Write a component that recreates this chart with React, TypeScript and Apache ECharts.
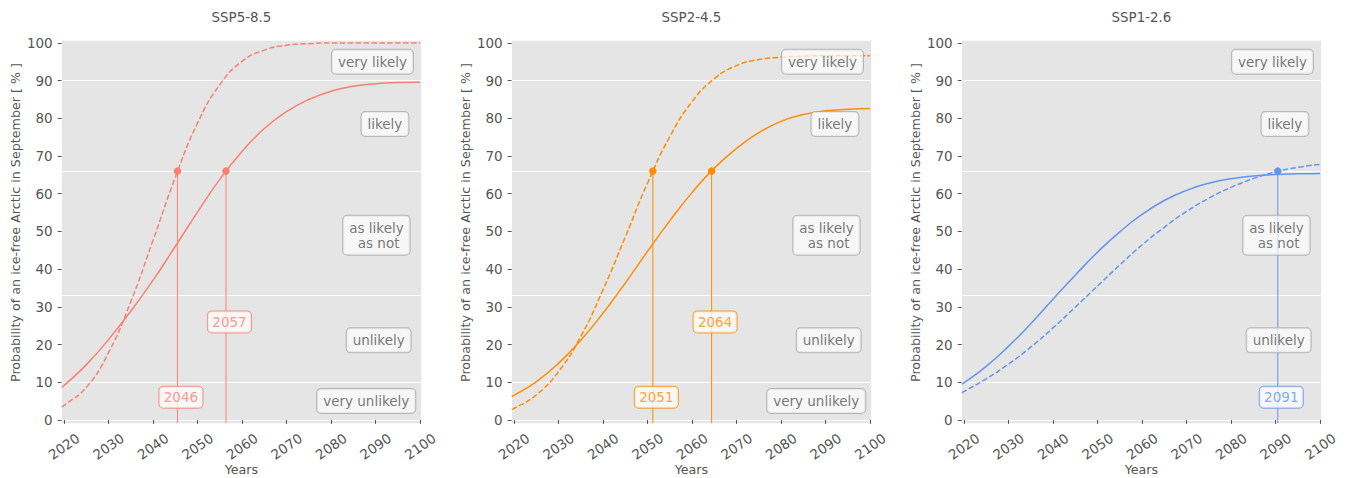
import React, { useEffect, useRef } from "react";
import * as echarts from "echarts";

// ---------- data ----------
const scenarios = ["SSP5-8.5", "SSP2-4.5", "SSP1-2.6"];
const years = [2019.5, 2020, 2025, 2030, 2035, 2040, 2045, 2050, 2055, 2060, 2065, 2070, 2075, 2080, 2085, 2090, 2095, 2100];

const ssp585Solid = [8.6, 9.1, 14.6, 21.3, 28.8, 37.0, 46.0, 55.1, 63.8, 71.2, 77.3, 81.8, 85.0, 87.2, 88.5, 89.2, 89.5, 89.6];
const ssp585Dashed = [3.4, 3.8, 8.6, 17.8, 31.3, 47.6, 64.3, 78.7, 88.9, 95.1, 98.1, 99.4, 99.8, 100, 100, 100, 100, 100];
const ssp245Solid = [6.2, 6.5, 10.1, 15.0, 21.1, 28.3, 36.3, 44.7, 52.8, 60.3, 66.8, 72.0, 76.2, 79.2, 81.0, 82.0, 82.4, 82.6];
const ssp245Dashed = [2.8, 3.0, 6.6, 12.8, 22.1, 34.5, 48.5, 62.8, 75.1, 84.4, 90.5, 94.0, 95.6, 96.2, 96.5, 96.6, 96.6, 96.6];
const ssp126Solid = [9.5, 9.8, 14.2, 19.5, 25.5, 32.0, 38.4, 44.5, 49.9, 54.5, 58.2, 60.9, 62.8, 64.0, 64.7, 65.1, 65.3, 65.4];
const ssp126Dashed = [7.2, 7.5, 10.9, 14.8, 19.3, 24.4, 29.9, 35.5, 41.1, 46.4, 51.1, 55.3, 58.8, 61.7, 64.0, 65.8, 67.0, 67.8];

// crossing of the 66 % ("likely") threshold
const crossYears585 = [2045.5, 2056.4];
const crossLabels585 = ["2046", "2057"];
const crossLabelY585 = [6, 26];
const crossYears245 = [2051.2, 2064.4];
const crossLabels245 = ["2051", "2064"];
const crossLabelY245 = [6, 26];
const crossYears126 = [2090.5];
const crossLabels126 = ["2091"];
const crossLabelY126 = [6];
const crossLevel = 66;

const likelihoodThresholds = [10, 33, 66, 90];
const likelihoodTexts = ["very likely", "likely", "as likely\n as not", "unlikely", "very unlikely"];
const likelihoodTextX = [2089.3, 2092.1, 2090.2, 2090.7, 2087.9];
const likelihoodTextY = [95, 78.5, 49, 21.1, 5];
// how many of the likelihood boxes each panel shows
const likelihoodCount = [5, 5, 4];

const yTicks = [0, 10, 20, 30, 40, 50, 60, 70, 80, 90, 100];
const xTicks = [2020, 2030, 2040, 2050, 2060, 2070, 2080, 2090, 2100];

// ---------- styling ----------
const colors = ["#FA8072", "#FF8C00", "#6495ED"];
const FONT = "DejaVu Sans";
const TXT = "#555555";
const X_MIN = 2019.5;
const X_MAX = 2100.25;
const Y_MIN = -0.9;
const Y_MAX = 100.6;
const GRID_LEFT = [61.7, 511.7, 961.7];
const GRID_TOP = 40.7;
const GRID_W = 359.5;
const GRID_H = 382.6;

const solidSets = [ssp585Solid, ssp245Solid, ssp126Solid];
const dashedSets = [ssp585Dashed, ssp245Dashed, ssp126Dashed];
const crossYearSets = [crossYears585, crossYears245, crossYears126];
const crossLabelSets = [crossLabels585, crossLabels245, crossLabels126];
const crossLabelYSets = [crossLabelY585, crossLabelY245, crossLabelY126];

function buildOption() {
  const grid: any[] = [];
  const xAxis: any[] = [];
  const yAxis: any[] = [];
  const series: any[] = [];
  const graphic: any[] = [];

  scenarios.forEach((name, i) => {
    const color = colors[i];
    grid.push({
      left: GRID_LEFT[i],
      top: GRID_TOP,
      width: GRID_W,
      height: GRID_H,
      show: true,
      backgroundColor: "#E5E5E5",
      borderWidth: 0,
      containLabel: false,
      outerBoundsMode: "none",
    });
    xAxis.push({
      type: "value",
      gridIndex: i,
      min: X_MIN,
      max: X_MAX,
      name: "Years",
      nameLocation: "middle",
      nameGap: 40,
      nameMoveOverlap: false,
      nameTextStyle: { color: TXT, fontSize: 12.7, fontFamily: FONT },
      axisLine: { show: true, lineStyle: { color: "#ffffff", width: 1 } },
      axisTick: { show: true, customValues: xTicks, length: 4, lineStyle: { color: TXT, width: 1 } },
      axisLabel: {
        customValues: xTicks,
        rotate: 35,
        align: "center",
        verticalAlign: "middle",
        margin: 23,
        color: TXT,
        fontSize: 13.5,
        fontFamily: FONT,
        formatter: (v: number) => String(v),
      },
      splitLine: { show: false },
    });
    yAxis.push({
      type: "value",
      gridIndex: i,
      min: Y_MIN,
      max: Y_MAX,
      axisLine: { show: true, lineStyle: { color: "#ffffff", width: 1 } },
      axisTick: { show: true, customValues: yTicks, length: 4, lineStyle: { color: TXT, width: 1 } },
      axisLabel: {
        customValues: yTicks,
        margin: 9,
        color: TXT,
        fontSize: 13.5,
        fontFamily: FONT,
        formatter: (v: number) => String(v),
      },
      splitLine: { show: false },
    });

    // threshold lines
    series.push({
      type: "line",
      xAxisIndex: i,
      yAxisIndex: i,
      data: [],
      silent: true,
      z: 1,
      markLine: {
        silent: true,
        z: 1,
        symbol: ["none", "none"],
        label: { show: false },
        lineStyle: { color: "#ffffff", width: 1.2, type: "solid" },
        data: likelihoodThresholds.map((v) => ({ yAxis: v })),
      },
    });

    // vertical lines from crossing markers
    crossYearSets[i].forEach((yr) => {
      series.push({
        type: "line",
        xAxisIndex: i,
        yAxisIndex: i,
        data: [
          [yr, crossLevel],
          [yr, Y_MIN],
        ],
        showSymbol: false,
        silent: true,
        lineStyle: { color, width: 1 },
        z: 2,
      });
    });

    // curves
    series.push({
      type: "line",
      xAxisIndex: i,
      yAxisIndex: i,
      data: years.map((x, k) => [x, solidSets[i][k]]),
      smooth: 0.5,
      showSymbol: false,
      lineStyle: { color, width: 1.5 },
      itemStyle: { color },
      z: 3,
    });
    series.push({
      type: "line",
      xAxisIndex: i,
      yAxisIndex: i,
      data: years.map((x, k) => [x, dashedSets[i][k]]),
      smooth: 0.5,
      showSymbol: false,
      lineStyle: { color, width: 1.5, type: [5.5, 2.4] },
      itemStyle: { color },
      z: 3,
    });

    // markers
    series.push({
      type: "scatter",
      xAxisIndex: i,
      yAxisIndex: i,
      data: crossYearSets[i].map((yr) => [yr, crossLevel]),
      symbolSize: 7.5,
      itemStyle: { color, opacity: 1 },
      z: 4,
    });

    // year labels
    series.push({
      type: "scatter",
      xAxisIndex: i,
      yAxisIndex: i,
      data: crossYearSets[i].map((yr, k) => [yr, crossLabelYSets[i][k]]),
      symbolSize: 1,
      itemStyle: { color: "rgba(0,0,0,0)" },
      z: 6,
      label: {
        show: true,
        position: "inside",
        offset: [3.5, 0],
        formatter: (p: any) => crossLabelSets[i][p.dataIndex],
        color,
        fontSize: 13.5,
        fontFamily: FONT,
        lineHeight: 15,
        backgroundColor: "rgba(255,255,255,0.92)",
        borderColor: color,
        borderWidth: 1,
        borderRadius: 4,
        padding: [3, 4.4],
      },
    });

    // likelihood labels
    const n = likelihoodCount[i];
    series.push({
      type: "scatter",
      xAxisIndex: i,
      yAxisIndex: i,
      data: likelihoodTextX.slice(0, n).map((x, k) => [x, likelihoodTextY[k]]),
      symbolSize: 1,
      itemStyle: { color: "rgba(0,0,0,0)" },
      z: 6,
      label: {
        show: true,
        position: "inside",
        formatter: (p: any) => likelihoodTexts[p.dataIndex],
        color: TXT,
        fontSize: 13.5,
        fontFamily: FONT,
        lineHeight: 15,
        backgroundColor: "rgba(255,255,255,0.85)",
        borderColor: "#AAAAAA",
        borderWidth: 1,
        borderRadius: 4,
        padding: [4.5, 6],
      },
    });

    // title and y-axis label
    graphic.push({
      type: "text",
      x: GRID_LEFT[i] + GRID_W / 2,
      y: 17,
      style: {
        text: name,
        fill: TXT,
        fontSize: 13.4,
        fontFamily: FONT,
        align: "center",
        verticalAlign: "middle",
      },
    });
    graphic.push({
      type: "text",
      x: GRID_LEFT[i] - 46.5,
      y: 222.5,
      rotation: Math.PI / 2,
      style: {
        text: "Probability of an ice-free Arctic in September [ % ]",
        fill: TXT,
        fontSize: 12.7,
        fontFamily: FONT,
        align: "center",
        verticalAlign: "middle",
      },
    });
  });

  return {
    animation: false,
    backgroundColor: "#ffffff",
    textStyle: { fontFamily: FONT },
    grid,
    xAxis,
    yAxis,
    series,
    graphic,
  };
}

export default function App() {
  const ref = useRef<HTMLDivElement>(null);
  useEffect(() => {
    document.body.style.margin = "0";
    const chart = echarts.init(ref.current!, null, { renderer: "svg" });
    chart.setOption(buildOption() as any);
    return () => chart.dispose();
  }, []);
  return <div ref={ref} style={{ width: 1347, height: 478 }} />;
}
